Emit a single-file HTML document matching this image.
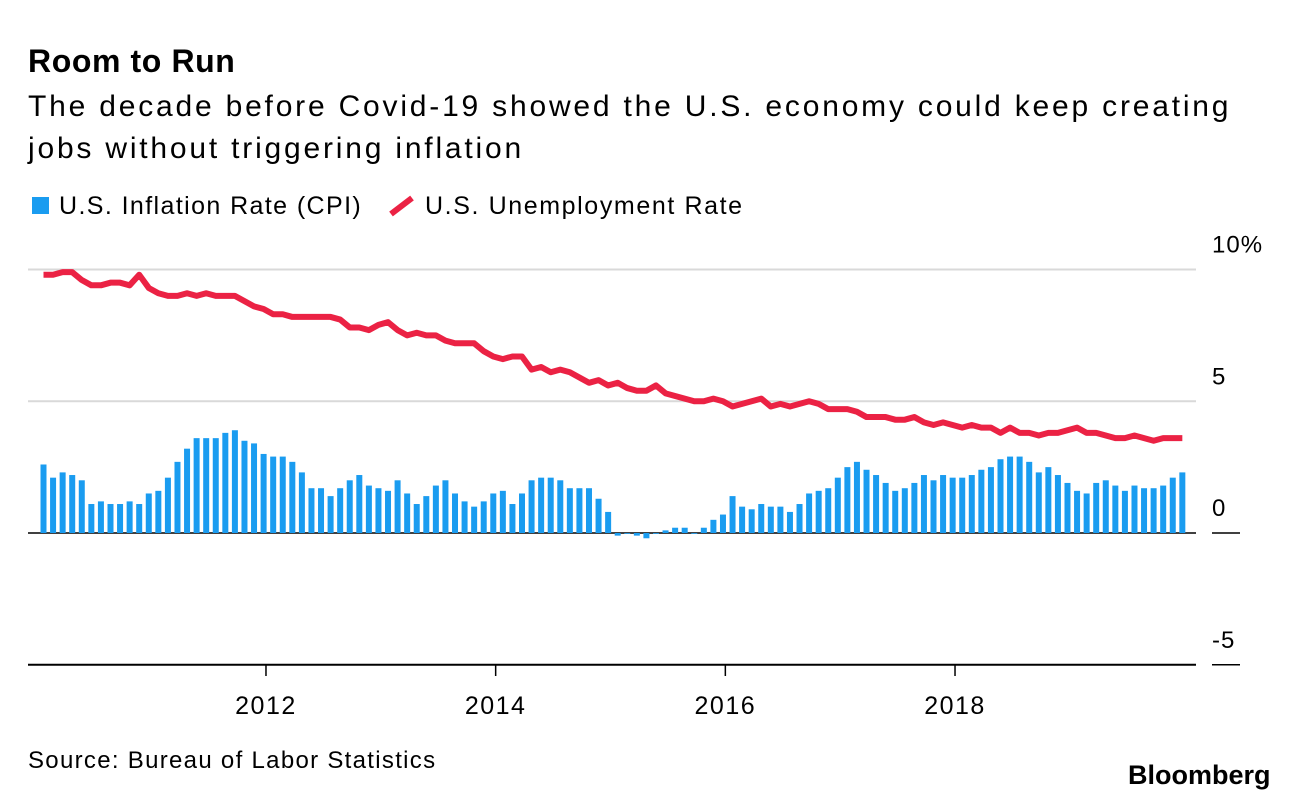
<!DOCTYPE html>
<html><head><meta charset="utf-8"><style>
body{margin:0;background:#fff;font-family:"Liberation Sans",Arial,sans-serif;}
#wrap{position:relative;width:1296px;height:802px;overflow:hidden;}
.t{position:absolute;white-space:nowrap;color:#000;}
</style></head><body>
<div id="wrap">
<div class="t" style="left:28px;top:43px;font-size:32px;font-weight:bold;letter-spacing:0.6px;">Room to Run</div>
<div class="t" style="left:28px;top:86px;font-size:30px;line-height:42px;letter-spacing:2.8px;">The decade before Covid-19 showed the U.S. economy could keep creating<br>jobs without triggering inflation</div>
<div class="t" style="left:32px;top:192px;font-size:25px;letter-spacing:1.4px;"><span style="display:inline-block;width:17px;height:17px;background:#1a9cf0;margin-right:10px;"></span>U.S. Inflation Rate (CPI)</div>
<div class="t" style="left:388px;top:192px;font-size:25px;letter-spacing:1.6px;"><svg width="28" height="22" style="vertical-align:-3px;margin-right:9px"><line x1="3" y1="19" x2="24" y2="3" stroke="#eb2244" stroke-width="6"/></svg>U.S. Unemployment Rate</div>
<svg id="chart" width="1296" height="802" style="position:absolute;left:0;top:0"></svg>
<div class="t" style="left:28px;top:747px;font-size:24px;letter-spacing:1.3px;">Source: Bureau of Labor Statistics</div>
<div class="t" style="left:1128px;top:760px;font-size:27px;font-weight:bold;letter-spacing:0px;">Bloomberg</div>
</div>
<script>
const cpi=[2.6,2.1,2.3,2.2,2.0,1.1,1.2,1.1,1.1,1.2,1.1,1.5,
1.6,2.1,2.7,3.2,3.6,3.6,3.6,3.8,3.9,3.5,3.4,3.0,
2.9,2.9,2.7,2.3,1.7,1.7,1.4,1.7,2.0,2.2,1.8,1.7,
1.6,2.0,1.5,1.1,1.4,1.8,2.0,1.5,1.2,1.0,1.2,1.5,
1.6,1.1,1.5,2.0,2.1,2.1,2.0,1.7,1.7,1.7,1.3,0.8,
-0.1,0.0,-0.1,-0.2,0.0,0.1,0.2,0.2,0.0,0.2,0.5,0.7,
1.4,1.0,0.9,1.1,1.0,1.0,0.8,1.1,1.5,1.6,1.7,2.1,
2.5,2.7,2.4,2.2,1.9,1.6,1.7,1.9,2.2,2.0,2.2,2.1,
2.1,2.2,2.4,2.5,2.8,2.9,2.9,2.7,2.3,2.5,2.2,1.9,
1.6,1.5,1.9,2.0,1.8,1.6,1.8,1.7,1.7,1.8,2.1,2.3];
const unemp=[9.8,9.8,9.9,9.9,9.6,9.4,9.4,9.5,9.5,9.4,9.8,9.3,
9.1,9.0,9.0,9.1,9.0,9.1,9.0,9.0,9.0,8.8,8.6,8.5,
8.3,8.3,8.2,8.2,8.2,8.2,8.2,8.1,7.8,7.8,7.7,7.9,
8.0,7.7,7.5,7.6,7.5,7.5,7.3,7.2,7.2,7.2,6.9,6.7,
6.6,6.7,6.7,6.2,6.3,6.1,6.2,6.1,5.9,5.7,5.8,5.6,
5.7,5.5,5.4,5.4,5.6,5.3,5.2,5.1,5.0,5.0,5.1,5.0,
4.8,4.9,5.0,5.1,4.8,4.9,4.8,4.9,5.0,4.9,4.7,4.7,
4.7,4.6,4.4,4.4,4.4,4.3,4.3,4.4,4.2,4.1,4.2,4.1,
4.0,4.1,4.0,4.0,3.8,4.0,3.8,3.8,3.7,3.8,3.8,3.9,
4.0,3.8,3.8,3.7,3.6,3.6,3.7,3.6,3.5,3.6,3.6,3.6];
const yTicks=[10,5,0,-5];
const yTickLabels=["10%","5","0","-5"];
const xYears=[2012,2014,2016,2018];
const NS="http://www.w3.org/2000/svg";
const svg=document.getElementById('chart');
const X=m=>38.5+m*9.57;
const XT=m=>36.3+m*9.57;
const Y=v=>533-v*26.35;
function mk(t,a){const e=document.createElementNS(NS,t);for(const k in a)e.setAttribute(k,a[k]);svg.appendChild(e);return e;}
yTicks.forEach((v,i)=>{
  const l=mk('line',{x1:28,x2:1196,y1:Y(v),y2:Y(v),stroke:(v===-5||v===0)?'#000':'#d9d9d9','stroke-width':v===-5?2:(v===0?1.5:2)});
  
  
  const tx=mk('text',{x:1212,y:Y(v)-17,'font-size':24,'letter-spacing':1,'font-family':'Liberation Sans, sans-serif'});
  tx.textContent=yTickLabels[i];
  
  
  if(v===0||v===-5){mk('line',{x1:1212,x2:1240,y1:Y(v),y2:Y(v),stroke:'#000','stroke-width':1.5});}
});
cpi.forEach((v,i)=>{
  const r=mk('rect',{x:X(i)+2,y:Math.min(Y(v),Y(0)),width:6,height:Math.max(Math.abs(Y(v)-Y(0)),0.8),fill:'#1a9cf0'});
  
  
});
const p=mk('polyline',{points:unemp.map((v,i)=>(X(i)+5)+','+Y(v)).join(' '),fill:'none',stroke:'#eb2244','stroke-width':6,'stroke-linejoin':'round'});


xYears.forEach(yr=>{
  const x=XT((yr-2010)*12);
  mk('line',{x1:x,x2:x,y1:664,y2:676,stroke:'#000','stroke-width':1.5});
  const t=mk('text',{x:x,y:714,'font-size':25,'letter-spacing':1.5,'text-anchor':'middle','font-family':'Liberation Sans, sans-serif'});
  t.textContent=yr;
  
  
});
</script>
</body></html>
